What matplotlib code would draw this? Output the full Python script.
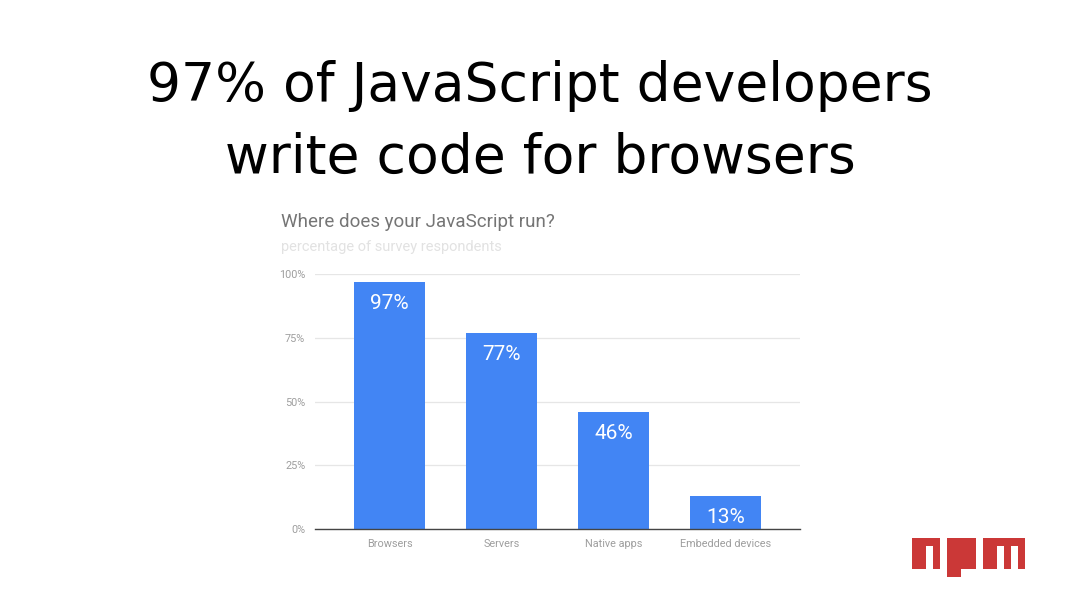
import matplotlib
matplotlib.use("Agg")
import matplotlib.pyplot as plt
from matplotlib.path import Path
from matplotlib.patches import PathPatch

title_lines = ["97% of JavaScript developers", "write code for browsers"]
chart_title = "Where does your JavaScript run?"
chart_subtitle = "percentage of survey respondents"
categories = ["Browsers", "Servers", "Native apps", "Embedded devices"]
values = [97, 77, 46, 13]
yticks = [0, 25, 50, 75, 100]
ytick_labels = ["0%", "25%", "50%", "75%", "100%"]

fig = plt.figure(figsize=(10.8, 6.08), dpi=100)
fig.patch.set_facecolor("white")

for line, ybase in zip(title_lines, [101, 173]):
    fig.text(0.5, 1 - ybase/608, line, ha="center", va="baseline", fontsize=38.5,
             family="DejaVu Sans", color="black")

fig.text(281/1080, 1 - 222/608, chart_title, ha="left", va="center",
         fontsize=13.5, color="#757575", family="Roboto")
fig.text(281/1080, 1 - 247/608, chart_subtitle, ha="left", va="center",
         fontsize=10.5, color="#e2e2e2", family="Roboto")

ax = fig.add_axes([315/1080, 79/608, 485/1080, 255/608])
x = list(range(len(categories)))
bars = ax.bar(x, values, width=0.634, color="#4285F4", zorder=3)
for xi, v in zip(x, values):
    ax.text(xi, v - 8.6, f"{v}%", ha="center", va="center", color="white",
            fontsize=15, family="Roboto", zorder=4)
ax.set_xlim(-0.665, 3.665)
ax.set_ylim(0, 100)
ax.set_yticks(yticks)
ax.set_yticklabels(ytick_labels)
ax.set_xticks(x)
ax.set_xticklabels(categories)
ax.tick_params(axis="both", length=0, labelsize=7.8, labelcolor="#9e9e9e", pad=7)
for lbl in ax.get_xticklabels() + ax.get_yticklabels():
    lbl.set_family("Roboto")
ax.grid(axis="y", color="#e6e6e6", linewidth=0.9, zorder=0)
for s in ["top", "right", "left"]:
    ax.spines[s].set_visible(False)
ax.spines["bottom"].set_color("#444444")
ax.spines["bottom"].set_linewidth(1)
ax.spines["bottom"].set_zorder(5)

# npm logo (wordmark letters)
lax = fig.add_axes([908.5/1080, 23.2/608, 120/1080, 54.6/608])
lax.set_xlim(0.5, 17.5)
lax.set_ylim(7.0, 0.0)
lax.axis("off")
n_pts = [(1, 5), (3, 5), (3, 2), (4, 2), (4, 5), (5, 5), (5, 1), (1, 1), (1, 5)]
p_outer = [(6, 1), (6, 6), (8, 6), (8, 5), (10, 5), (10, 1), (6, 1)]
p_inner = [(8, 2), (9, 2), (9, 4), (8, 4), (8, 2)]
m_pts = [(11, 1), (11, 5), (13, 5), (13, 2), (14, 2), (14, 5), (15, 5), (15, 2),
         (16, 2), (16, 5), (17, 5), (17, 1), (11, 1)]
verts, codes = [], []
for shape in [n_pts, p_outer, p_inner[::-1], m_pts]:
    verts.extend(shape)
    codes.extend([Path.MOVETO] + [Path.LINETO] * (len(shape) - 2) + [Path.CLOSEPOLY])
lax.add_patch(PathPatch(Path(verts, codes), facecolor="#CB3837", edgecolor="none"))

fig.savefig("out.png", dpi=100, facecolor="white")
